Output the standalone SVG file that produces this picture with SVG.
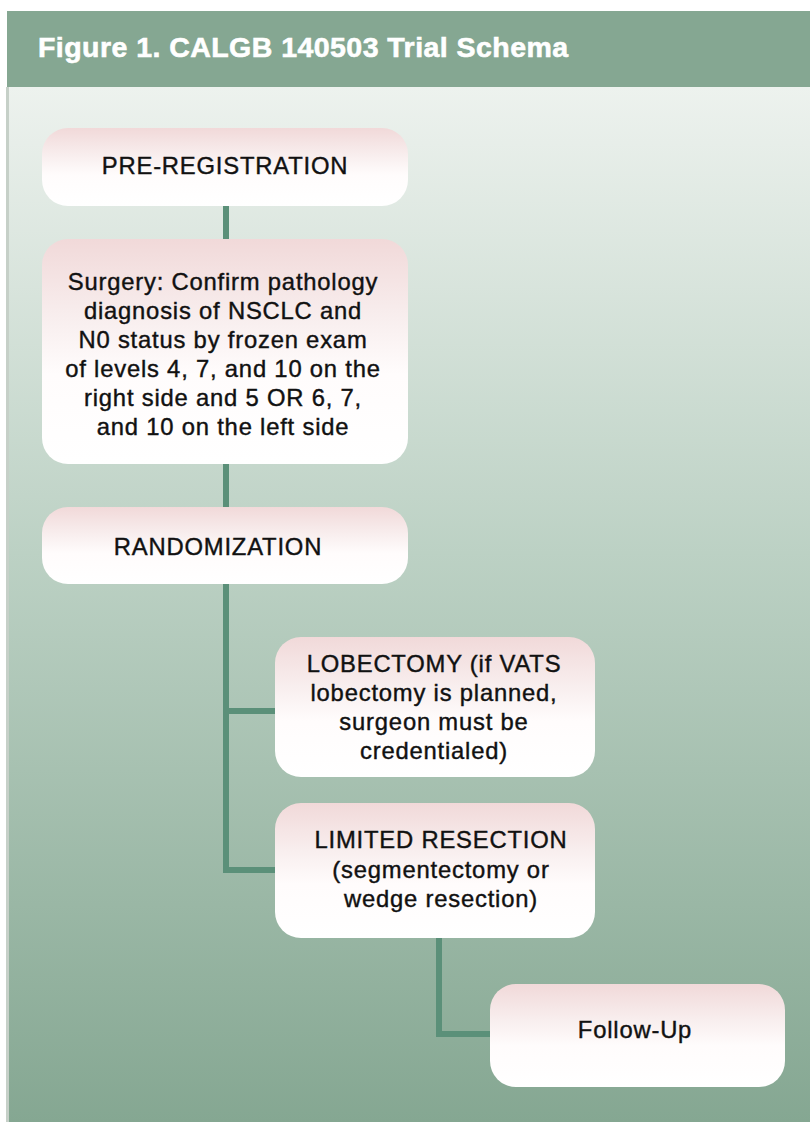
<svg xmlns="http://www.w3.org/2000/svg" width="810" height="1122" viewBox="0 0 810 1122">
  <defs>
    <linearGradient id="bodyGrad" x1="0" y1="0" x2="0" y2="1">
      <stop offset="0" stop-color="#edf2ee"/>
      <stop offset="0.45" stop-color="#bcd1c4"/>
      <stop offset="1" stop-color="#85a792"/>
    </linearGradient>
    <linearGradient id="boxGrad" x1="0" y1="0" x2="0" y2="1">
      <stop offset="0" stop-color="#f1d9d9"/>
      <stop offset="0.35" stop-color="#f8eeee"/>
      <stop offset="0.6" stop-color="#fffcfc"/>
      <stop offset="1" stop-color="#ffffff"/>
    </linearGradient>
    <style>
      .box { fill: url(#boxGrad); }
      .lbl { font-family: "Liberation Sans", Arial, sans-serif; font-size: 23.8px; fill: #111; stroke: #111; stroke-width: 0.4; letter-spacing: 0.8px; text-anchor: middle; }
      .conn { stroke: #5b9079; stroke-width: 6; fill: none; stroke-linecap: butt; stroke-linejoin: miter; }
      .title { font-family: "Liberation Sans", Arial, sans-serif; font-size: 28.5px; font-weight: bold; fill: #ffffff; stroke: #ffffff; stroke-width: 0.6; letter-spacing: 0.45px; }
    </style>
  </defs>

  <rect x="0" y="0" width="810" height="1122" fill="#ffffff"/>
  <rect x="7" y="87" width="803" height="1035" fill="url(#bodyGrad)"/>
  <rect x="6" y="87" width="3" height="1035" fill="#c6d0c8"/>

  <g id="header">
    <rect x="7" y="11" width="803" height="76" fill="#85a792"/>
    <text class="title" x="38" y="57">Figure 1. CALGB 140503 Trial Schema</text>
  </g>

  <g id="connectors">
    <line class="conn" x1="226" y1="205" x2="226" y2="240"/>
    <line class="conn" x1="226" y1="463" x2="226" y2="508"/>
    <polyline class="conn" points="226,583 226,870 276,870"/>
    <line class="conn" x1="226" y1="711" x2="276" y2="711"/>
    <polyline class="conn" points="439,937 439,1034 491,1034"/>
  </g>

  <g id="node-preregistration">
    <rect class="box" x="42" y="128" width="366" height="78" rx="26" ry="26"/>
    <text class="lbl" x="225" y="174">PRE-REGISTRATION</text>
  </g>

  <g id="node-surgery">
    <rect class="box" x="42" y="239" width="366" height="225" rx="26" ry="26"/>
    <text class="lbl" x="223" y="290">Surgery: Confirm pathology</text>
    <text class="lbl" x="223" y="319">diagnosis of NSCLC and</text>
    <text class="lbl" x="223" y="348">N0 status by frozen exam</text>
    <text class="lbl" x="223" y="377">of levels 4, 7, and 10 on the</text>
    <text class="lbl" x="223" y="406">right side and 5 OR 6, 7,</text>
    <text class="lbl" x="223" y="435">and 10 on the left side</text>
  </g>

  <g id="node-randomization">
    <rect class="box" x="42" y="507" width="366" height="77" rx="26" ry="26"/>
    <text class="lbl" x="218" y="555">RANDOMIZATION</text>
  </g>

  <g id="node-lobectomy">
    <rect class="box" x="275" y="637" width="320" height="140" rx="26" ry="26"/>
    <text class="lbl" x="434" y="672">LOBECTOMY (if VATS</text>
    <text class="lbl" x="434" y="701">lobectomy is planned,</text>
    <text class="lbl" x="434" y="730">surgeon must be</text>
    <text class="lbl" x="434" y="759">credentialed)</text>
  </g>

  <g id="node-limited">
    <rect class="box" x="275" y="803" width="320" height="135" rx="26" ry="26"/>
    <text class="lbl" x="441" y="848">LIMITED RESECTION</text>
    <text class="lbl" x="441" y="878">(segmentectomy or</text>
    <text class="lbl" x="441" y="907">wedge resection)</text>
  </g>

  <g id="node-followup">
    <rect class="box" x="490" y="984" width="295" height="103" rx="26" ry="26"/>
    <text class="lbl" x="635" y="1038">Follow-Up</text>
  </g>
</svg>
